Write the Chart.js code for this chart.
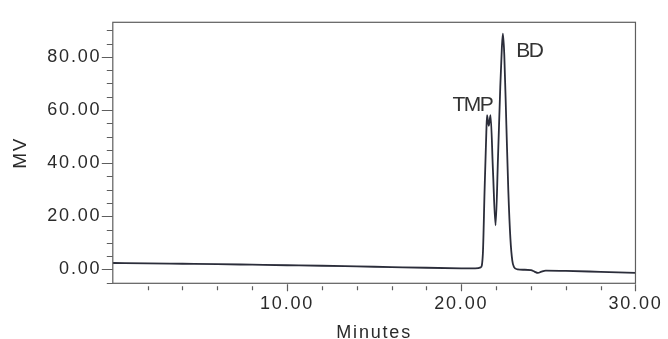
<!DOCTYPE html>
<html>
<head>
<meta charset="utf-8">
<script src="https://cdn.jsdelivr.net/npm/chart.js@4.4.1/dist/chart.umd.min.js"></script>
<style>
  html, body { margin: 0; padding: 0; background: #ffffff; }
  #wrap { width: 668px; height: 339px; position: relative; }
</style>
</head>
<body>
<div id="wrap"><canvas id="c"></canvas></div>
<script>
// Retention time (minutes)
const times = [0, 2, 4, 6, 8, 10, 12, 14, 16, 18, 20, 20.8, 21.12, 21.24, 21.34, 21.44, 21.48, 21.58, 21.68, 21.82, 21.97, 22.11, 22.24, 22.33, 22.39, 22.47, 22.59, 22.70, 22.82, 22.93, 23.02, 23.24, 23.6, 24.0, 24.2, 24.4, 24.6, 24.85, 26, 28, 30];
// Detector signal (MV)
const signal = [2.44, 2.3, 2.15, 2.0, 1.8, 1.6, 1.4, 1.15, 0.9, 0.65, 0.45, 0.4, 0.8, 5.8, 29.9, 51.7, 58.1, 54.0, 58.1, 37.2, 16.6, 42.2, 68.7, 83.3, 88.7, 80.8, 54.2, 29.9, 11.7, 3.3, 1.0, 0.0, -0.1, -0.25, -0.8, -1.3, -0.8, -0.4, -0.5, -0.9, -1.3];
// Peak annotations: name, time, signal
const peakNames = ["TMP", "BD"];
const peakTimes = [19.5, 23.15];
const peakLevels = [59.6, 79.9];
// Axis ranges and ticks
const xRange = [0, 30];
const yRange = [-5.2, 93];
const xLabelled = [10, 20, 30];
const yLabelled = [0, 20, 40, 60, 80];

const INK = '#2a2a2a';
const AXIS = '#5e5e5e';
const FONT = '"Liberation Sans", Arial, sans-serif';

const framePlugin = {
  id: 'frame',
  beforeDraw(chart) {
    chart.ctx.letterSpacing = '1.8px';
  },
  afterDraw(chart) {
    const ctx = chart.ctx;
    const a = chart.chartArea;
    const xs = chart.scales.x, ys = chart.scales.y;
    ctx.save();
    ctx.strokeStyle = AXIS;
    ctx.lineWidth = 1.2;
    ctx.strokeRect(a.left, a.top, a.right - a.left, a.bottom - a.top);
    ctx.beginPath();
    for (let v = -5; v <= 90; v += 5) {
      const y = Math.round(ys.getPixelForValue(v)) + 0.5;
      const len = yLabelled.includes(v) ? 11 : 6;
      ctx.moveTo(a.left - len, y);
      ctx.lineTo(a.left, y);
    }
    for (let v = 2; v <= 30; v += 2) {
      const x = Math.round(xs.getPixelForValue(v)) + 0.5;
      const major = xLabelled.includes(v);
      ctx.moveTo(x, a.bottom + (major ? 1 : 3));
      ctx.lineTo(x, a.bottom + (major ? 8 : 7));
    }
    ctx.stroke();
    ctx.restore();
  },
  afterDatasetsDraw(chart) {
    const ctx = chart.ctx;
    const xs = chart.scales.x, ys = chart.scales.y;
    ctx.save();
    ctx.letterSpacing = '-1.5px';
    ctx.font = '21px ' + FONT;
    ctx.fillStyle = '#333333';
    ctx.textAlign = 'left';
    ctx.textBaseline = 'alphabetic';
    peakNames.forEach((n, i) => {
      ctx.fillText(n, xs.getPixelForValue(peakTimes[i]), ys.getPixelForValue(peakLevels[i]));
    });
    ctx.restore();
  }
};

new Chart(document.getElementById('c'), {
  type: 'line',
  data: {
    datasets: [{
      data: times.map((t, i) => ({ x: t, y: signal[i] })),
      borderColor: '#2b2d3a',
      borderWidth: 1.8,
      pointRadius: 0,
      cubicInterpolationMode: 'monotone',
      fill: false
    }]
  },
  options: {
    responsive: true,
    maintainAspectRatio: false,
    animation: false,
    layout: { padding: { top: 13, right: 32, left: 0, bottom: 0 } },
    plugins: { legend: { display: false }, tooltip: { enabled: false } },
    scales: {
      x: {
        type: 'linear',
        min: xRange[0], max: xRange[1],
        afterFit(s) { s.height = 55.7; },
        grid: { display: false, drawTicks: false },
        border: { display: false },
        ticks: {
          stepSize: 2,
          autoSkip: false,
          maxRotation: 0,
          padding: 10,
          color: INK,
          font: { family: FONT, size: 18 },
          callback: v => xLabelled.includes(v) ? v.toFixed(2) : ''
        },
        title: {
          display: true, text: 'Minutes', color: INK,
          font: { family: FONT, size: 18, lineHeight: 1 },
          padding: { top: 0, bottom: -3 }
        }
      },
      y: {
        type: 'linear',
        min: yRange[0], max: yRange[1],
        afterFit(s) { s.width = 112.8; },
        grid: { display: false, drawTicks: false },
        border: { display: false },
        ticks: {
          stepSize: 5,
          autoSkip: false,
          padding: 11.5,
          color: INK,
          font: { family: FONT, size: 18 },
          callback: v => yLabelled.includes(v) ? v.toFixed(2) : ''
        },
        title: {
          display: true, text: 'MV', color: INK,
          font: { family: FONT, size: 19, lineHeight: 1 },
          padding: { top: 11.5, bottom: 0 }
        }
      }
    }
  },
  plugins: [framePlugin]
});
</script>
</body>
</html>
